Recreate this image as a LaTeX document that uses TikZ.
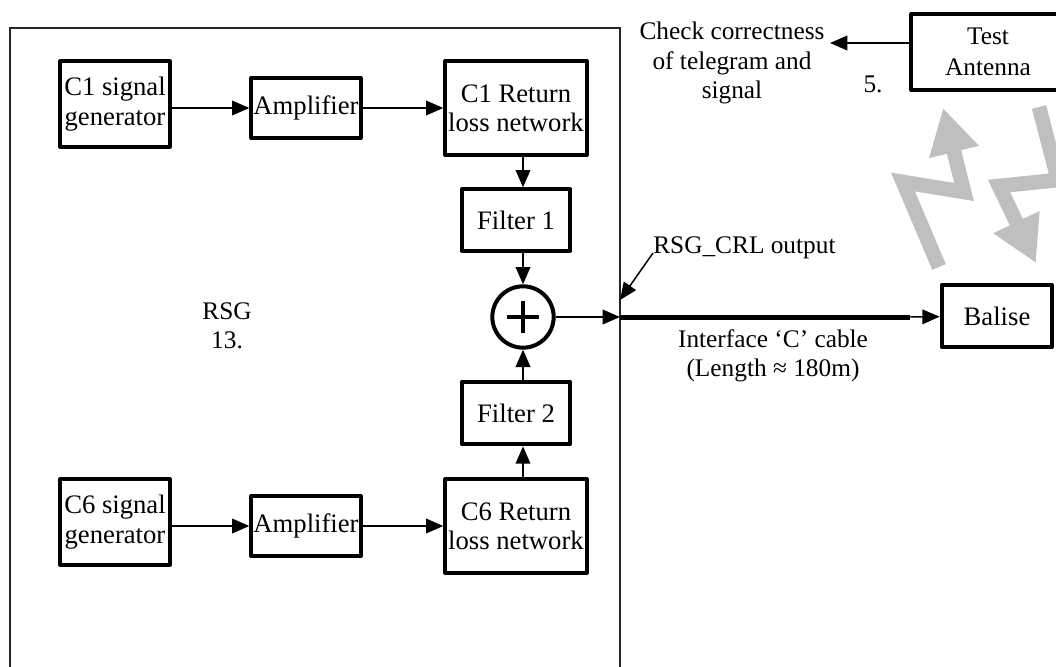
\documentclass[tikz,border=0pt]{standalone}
\usepackage{fontspec}
\setmainfont{Liberation Serif}
\usetikzlibrary{arrows.meta}

\tikzset{
  blk/.style={draw, line width=3pt, line join=round, align=center, inner sep=0pt,
    font=\fontsize{20}{22}\selectfont},
  arr/.style={-{Triangle[length=13pt,width=11pt]}, line width=1.1pt},
  wave/.style={-{Triangle[length=34pt,width=36pt]}, line width=11pt, draw=black!25},
}

\begin{document}
\begin{tikzpicture}[x=0.75pt, y=-0.75pt, font=\fontsize{19}{22}\selectfont]
\useasboundingbox (0,0) rectangle (1056,667);
% RSG housing, open at the bottom of the page
\draw[line width=1.2pt, black!85] (10,28) rectangle (620,720);
\node[align=center] (rsg) at (227,326) {RSG\\13.};
% C1 branch
\node[blk, minimum width=82pt, minimum height=64pt] (gen1) at (115,104) {C1 signal\\generator};
\node[blk, minimum width=82pt, minimum height=45pt] (amp1) at (306,108) {Amplifier};
\node[blk, minimum width=106pt, minimum height=70pt] (ret1) at (516,108) {C1 Return\\loss network};
\node[blk, minimum width=81pt, minimum height=46pt] (fil1) at (516,220) {Filter 1};
% C6 branch
\node[blk, minimum width=82pt, minimum height=64pt] (gen2) at (115,522) {C6 signal\\generator};
\node[blk, minimum width=82pt, minimum height=45pt] (amp2) at (306,526) {Amplifier};
\node[blk, minimum width=106pt, minimum height=70pt] (ret2) at (516,526) {C6 Return\\loss network};
\node[blk, minimum width=81pt, minimum height=47pt] (fil2) at (516,413) {Filter 2};
% summing point
\node[circle, draw, line width=3pt, minimum size=46pt, inner sep=0pt] (sum) at (523,317) {};
\draw[line width=2.6pt] (sum.center) +(-16,0) -- +(16,0) (sum.center) +(0,-16) -- +(0,16);
\draw[arr] (gen1.east |- amp1) -- (amp1);
\draw[arr] (amp1) -- (ret1);
\draw[arr] (ret1.south -| sum) -- (fil1.north -| sum);
\draw[arr] (fil1.south -| sum) -- (sum);
\draw[arr] (gen2.east |- amp2) -- (amp2);
\draw[arr] (amp2) -- (ret2);
\draw[arr] (ret2.north -| sum) -- (fil2.south -| sum);
\draw[arr] (fil2.north -| sum) -- (sum);
% output over the cable to the balise
\coordinate (out) at (620,317);
\coordinate (cabend) at (910,317);
\node[blk, minimum width=83pt, minimum height=46pt] (bal) at (997,316) {Balise};
\draw[arr] (sum) -- (out);
\draw[line width=3.75pt] (out) -- (cabend);
\draw[arr] (cabend) -- (bal);
\node[align=center] (cab) at (773,356) {Interface ‘C’ cable\\(Length ≈ 180m)};
\node[anchor=base west, inner sep=0pt] (crl) at (653,253) {RSG\_CRL output};
\coordinate (crlpt) at (620,300);
\draw[arr] (crl.base west) -- (crlpt);
% test antenna and check
\node[blk, minimum width=115pt, minimum height=57pt, font=\fontsize{19}{23}\selectfont] (ta) at (988,52) {Test\\Antenna};
\node[align=center] (chk) at (732,63) {Check correctness\\of telegram and\\signal};
\coordinate (chkin) at (830,43);
\draw[arr] (ta.west |- chkin) -- (chkin);
\node (num) at (873,84) {5.};
% air gap between balise and antenna
\draw[wave] (939,267) -- (903,182) -- (964,192) -- (943,108);
\draw[wave] (1039,107) -- (1058,180) -- (999,186) -- (1036,263);
\end{tikzpicture}
\end{document}
